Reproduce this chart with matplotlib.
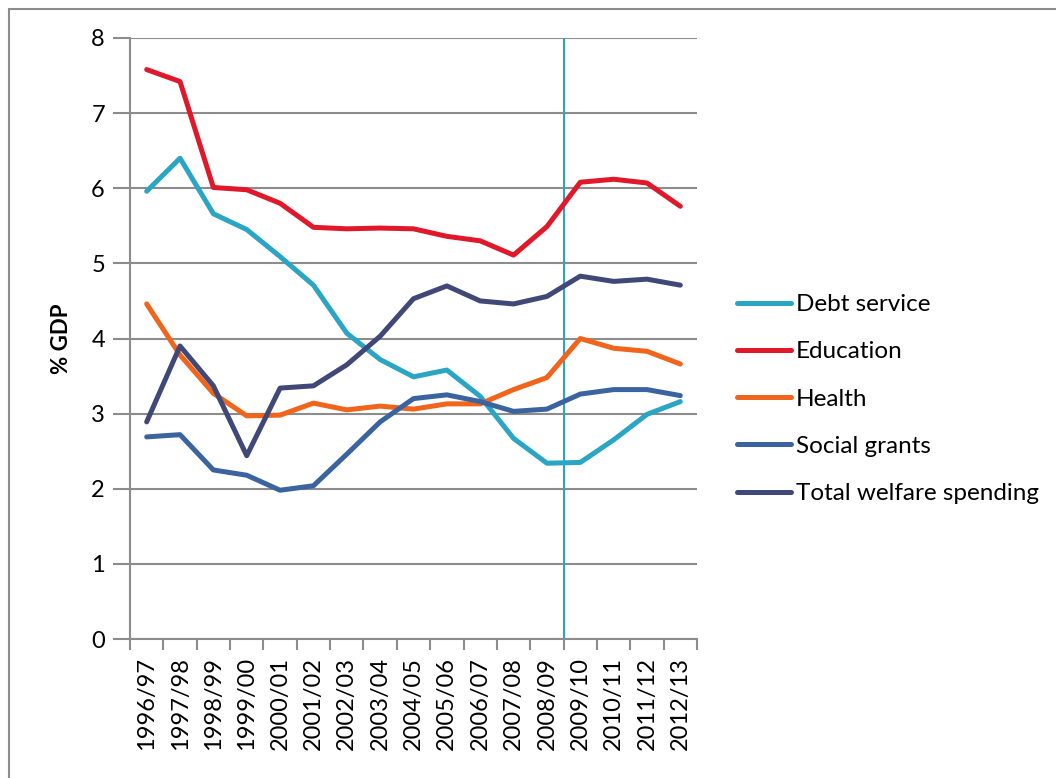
import matplotlib
matplotlib.use("Agg")
import matplotlib.pyplot as plt
from matplotlib.patches import Rectangle

plt.rcParams['font.family'] = ['Lato', 'DejaVu Sans']

years = ["1996/97", "1997/98", "1998/99", "1999/00", "2000/01", "2001/02",
         "2002/03", "2003/04", "2004/05", "2005/06", "2006/07", "2007/08",
         "2008/09", "2009/10", "2010/11", "2011/12", "2012/13"]

debt_service = [5.96, 6.40, 5.66, 5.45, 5.09, 4.71, 4.07, 3.72, 3.49, 3.58,
                3.23, 2.67, 2.34, 2.35, 2.65, 2.99, 3.16]
education = [7.58, 7.42, 6.01, 5.98, 5.80, 5.48, 5.46, 5.47, 5.46, 5.36,
             5.30, 5.11, 5.49, 6.08, 6.12, 6.07, 5.76]
health = [4.46, 3.78, 3.27, 2.97, 2.98, 3.14, 3.05, 3.10, 3.06, 3.13,
          3.13, 3.32, 3.48, 4.00, 3.87, 3.83, 3.66]
social_grants = [2.69, 2.72, 2.25, 2.18, 1.98, 2.04, 2.46, 2.89, 3.20, 3.25,
                 3.16, 3.03, 3.06, 3.26, 3.32, 3.32, 3.24]
total_welfare = [2.89, 3.90, 3.37, 2.44, 3.34, 3.37, 3.65, 4.03, 4.53, 4.70,
                 4.50, 4.46, 4.56, 4.83, 4.76, 4.79, 4.71]

series = [
    ("Debt service", debt_service, "#2aa5c4"),
    ("Education", education, "#e0182a"),
    ("Health", health, "#f0641c"),
    ("Social grants", social_grants, "#3a63a0"),
    ("Total welfare spending", total_welfare, "#404878"),
]

fig = plt.figure(figsize=(10.56, 7.78), dpi=100)
ax = fig.add_axes([130 / 1056, 1 - 639 / 778, 567 / 1056, 601 / 778])

# grey frame round the chart area (top and left edges visible)
fig.patches.append(Rectangle((9 / 1056, -0.1), 1.2, 1 - 9 / 778 + 0.1,
                             transform=fig.transFigure, fill=False,
                             edgecolor="#8c8c8c", linewidth=1.5))

x = list(range(len(years)))
for label, vals, col in series:
    ax.plot(x, vals, color=col, linewidth=3.6, label=label,
            solid_capstyle="round", solid_joinstyle="round", zorder=3)

# marker between 2008/09 and 2009/10
ax.axvline(12.5, color="#2aa5c4", linewidth=1.5, zorder=2)

ax.set_xlim(-0.5, len(years) - 0.5)
ax.set_ylim(0, 8)
ax.set_yticks(range(0, 9))
ax.yaxis.grid(True, color="#8c8c8c", linewidth=1.5)
ax.set_axisbelow(True)

ax.set_xticks([i - 0.5 for i in range(len(years) + 1)])
ax.set_xticklabels([])
ax.set_xticks(x, minor=True)
ax.set_xticklabels(years, minor=True, rotation=90, fontsize=17)
ax.tick_params(axis="x", which="major", length=8, width=1.5,
               color="#8c8c8c", direction="out")
ax.tick_params(axis="x", which="minor", length=0, pad=13)
ax.tick_params(axis="y", length=12, width=1.5, color="#8c8c8c",
               labelsize=17, pad=6)

for s in ["top", "right"]:
    ax.spines[s].set_visible(False)
for s in ["left", "bottom"]:
    ax.spines[s].set_color("#8c8c8c")
    ax.spines[s].set_linewidth(1.5)

ax.set_ylabel("% GDP", fontsize=16, fontweight="bold", labelpad=14)

ax.legend(loc="center left", bbox_to_anchor=(1.07, 0.399), frameon=False,
          fontsize=17.5, handlelength=2.25, handletextpad=0.2,
          labelspacing=1.08, borderaxespad=0, borderpad=0)

fig.savefig("out.png", dpi=100, facecolor="white")
